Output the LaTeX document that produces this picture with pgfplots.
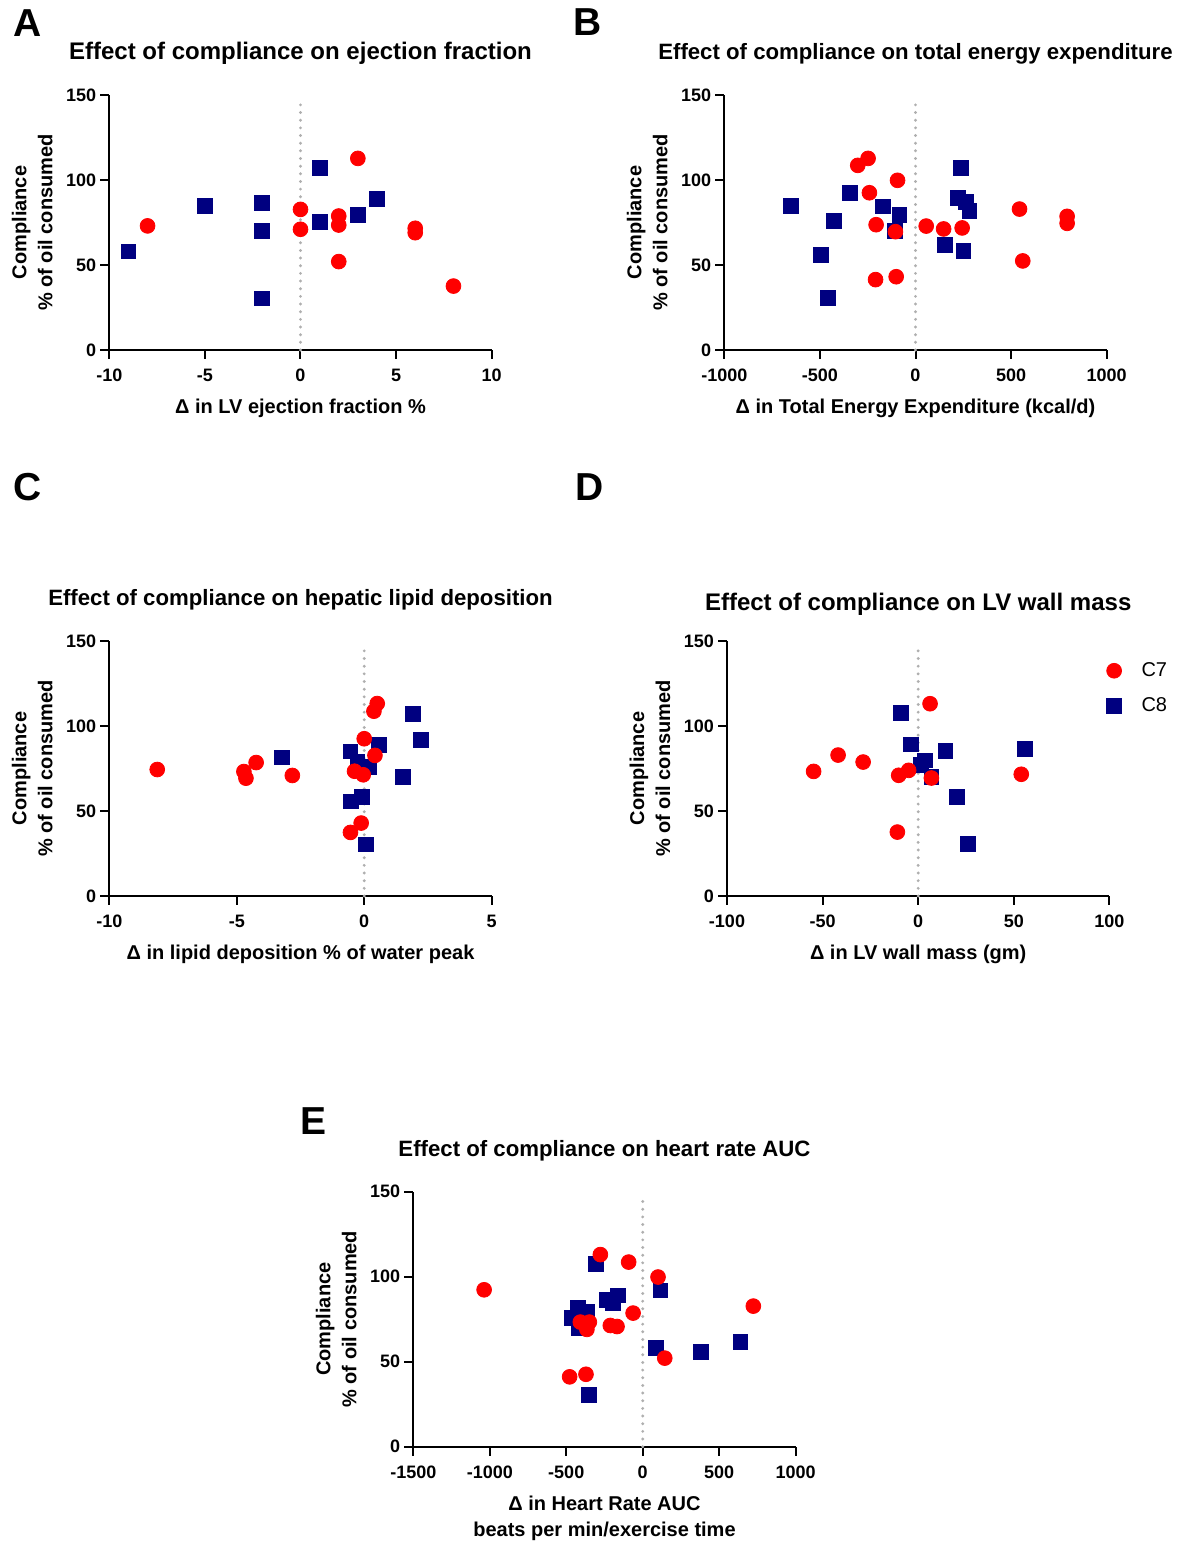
\documentclass[border=0pt]{standalone}
\usepackage{fontspec}
\setmainfont{Liberation Sans}
\usepackage{pgfplots}
\pgfplotsset{compat=1.18}

\definecolor{cseven}{RGB}{255,0,0}
\definecolor{ceight}{RGB}{0,0,128}
\definecolor{dotgray}{RGB}{175,175,175}

% common look of the five panels (GraphPad style)
\pgfplotsset{
  panel/.style={
    scale only axis, width=191.2pt, height=127.5pt,
    axis lines=left, axis line style={-, line width=1pt},
    tick align=outside, major tick length=4.5pt,
    every tick/.style={black, line width=1pt},
    ymin=0, ymax=150, ytick={0,50,100,150},
    /pgf/number format/assume math mode=true,
    /pgf/number format/1000 sep={},
    tick label style={font=\fontsize{9}{10}\selectfont\bfseries},
    xticklabel style={yshift=-1.5pt},
    yticklabel style={xshift=1.5pt},
    every axis x label/.style={at={(axis description cs:0.5,0)}, anchor=base, yshift=-32pt,
      align=center, font=\fontsize{10}{13}\selectfont\bfseries},
    every axis y label/.style={at={(axis description cs:0,0.5)}, anchor=center, xshift=-38.5pt,
      rotate=90, align=center, font=\fontsize{10}{13}\selectfont\bfseries},
    title style={font=\fontsize{12}{14}\selectfont\bfseries, at={(axis description cs:0.5,1)}, anchor=base, yshift=11.75pt},
    ylabel={Compliance\\\% of oil consumed},
    clip=false,
    legend image code/.code={\draw[#1] plot coordinates {(0pt,0pt)};},
  },
  smalltitle/.style={title style={font=\fontsize{11.1}{13}\selectfont\bfseries}},
  c7/.style={only marks, mark=*, mark size=3.7pt, mark options={draw=cseven, fill=cseven}},
  c8/.style={only marks, mark=square*, mark size=3.7pt, mark options={draw=ceight, fill=ceight}},
  zeroline/.style={forget plot, dotgray, line width=1.6pt, line cap=round, dash pattern=on 0pt off 3.83pt},
}

\begin{document}
\begin{tikzpicture}
\path[use as bounding box] (0,0) rectangle (594pt,772pt);

\node[font=\fontsize{19.5}{20}\selectfont\bfseries] at (14pt,760.5pt) {A};
\node[font=\fontsize{19.5}{20}\selectfont\bfseries] at (294pt,761pt) {B};
\node[font=\fontsize{19.5}{20}\selectfont\bfseries] at (14pt,528.5pt) {C};
\node[font=\fontsize{19.5}{20}\selectfont\bfseries] at (295pt,528.5pt) {D};
\node[font=\fontsize{19.5}{20}\selectfont\bfseries] at (157pt,211.5pt) {E};

% A
\begin{axis}[panel, at={(54.65pt,597pt)}, anchor=south west,
  xmin=-10, xmax=10, xtick={-10,-5,0,5,10},
  title={Effect of compliance on ejection fraction},
  xlabel={Δ in LV ejection fraction \%}]
\addplot[c8] coordinates {(-9,58) (-5,84.9) (-2,86.3) (-2,70) (-2,30.4) (1,107.3) (1,75.5) (3,79.4) (4,88.8)};
\addplot[c7] coordinates {(-8,73) (0,82.7) (0,71) (2,78.8) (2,73.5) (3,112.7) (2,52) (6,71.6) (6,69) (8,37.6)};
\addplot[zeroline] coordinates {(0,0) (0,148)};
\end{axis}

% B
\begin{axis}[panel, smalltitle, at={(362.15pt,597pt)}, anchor=south west,
  xmin=-1000, xmax=1000, xtick={-1000,-500,0,500,1000},
  title={Effect of compliance on total energy expenditure},
  xlabel={Δ in Total Energy Expenditure (kcal/d)}]
\addplot[c8] coordinates {(-652,84.9) (-344,92.2) (-171,84.5) (-84,79.6) (-427,76.1) (-106,70.2) (-495,55.9) (-460,30.6) (239,107.3) (223,89.4) (265,87.3) (282,81.6) (152,61.8) (251,58.4)};
\addplot[c7] coordinates {(-302,108.6) (-248,112.7) (-94,99.8) (-241,92.5) (-206,73.7) (-105,69.6) (56,72.9) (147,71.2) (244,71.8) (544,82.9) (793,78.6) (793,74.5) (561,52.4) (-209,41.4) (-101,43.1)};
\addplot[zeroline] coordinates {(0,0) (0,145)};
\end{axis}

% C
\begin{axis}[panel, smalltitle, at={(54.65pt,324pt)}, anchor=south west,
  xmin=-10, xmax=5, xtick={-10,-5,0,5},
  title={Effect of compliance on hepatic lipid deposition},
  xlabel={Δ in lipid deposition \% of water peak}]
\addplot[c8] coordinates {(-3.22,81.5) (-0.54,85) (0.58,89) (-0.27,79.1) (0.18,75.8) (1.92,107.3) (2.21,91.9) (1.53,70.1) (-0.51,55.7) (-0.08,58.1) (0.08,30.3)};
\addplot[c7] coordinates {(-8.12,74.4) (-4.72,73.2) (-4.64,69.3) (-4.24,78.5) (-2.82,70.9) (0,92.5) (0.51,113.2) (0.38,108.7) (0.42,82.7) (-0.38,73.4) (-0.04,71.3) (-0.12,42.9) (-0.54,37.4)};
\addplot[zeroline] coordinates {(0,0) (0,148)};
\end{axis}

% D
\begin{axis}[panel, at={(363.5pt,324pt)}, anchor=south west,
  xmin=-100, xmax=100, xtick={-100,-50,0,50,100},
  title={Effect of compliance on LV wall mass},
  title style={yshift=-2.75pt},
  xlabel={Δ in LV wall mass (gm)},
  reverse legend,
  legend style={at={(0.992,0.926)}, anchor=north west, draw=none, fill=none, inner sep=0pt,
    font=\fontsize{10}{12}\selectfont, row sep=7pt,
    nodes={inner sep=1pt},
    /tikz/every odd column/.append style={column sep=9pt}}]
\addplot[c8] coordinates {(-9.1,107.5) (-3.9,89.2) (3.4,79.8) (1.3,76.9) (6.9,70) (14.2,85.3) (55.9,86.5) (20.1,58.2) (26.2,30.8)};
\addlegendentry{C8}
\addplot[c7] coordinates {(-54.7,73.3) (-41.9,82.9) (-28.8,78.8) (-10.2,71) (-5,73.9) (6.2,113.1) (6.9,69.4) (53.9,71.6) (-10.9,37.6)};
\addlegendentry{C7}
\addplot[zeroline] coordinates {(0,0) (0,146)};
\end{axis}

% E
\begin{axis}[panel, smalltitle, at={(206.65pt,48.65pt)}, anchor=south west,
  xmin=-1500, xmax=1000, xtick={-1500,-1000,-500,0,500,1000},
  title={Effect of compliance on heart rate AUC},
  xlabel={Δ in Heart Rate AUC\\beats per min/exercise time},
  xlabel style={yshift=-13pt}]
\addplot[c8] coordinates {(-306,107.3) (-424,81.7) (-365,79.6) (-463,75.8) (-415,69.7) (-238,86.2) (-162,89) (-197,84.7) (116,91.9) (87,58.2) (378,55.6) (638,61.5) (-354,30.5)};
\addplot[c7] coordinates {(-1037,92.3) (-277,113) (-92,108.6) (100,99.8) (-63,78.6) (-408,73.3) (-349,73.3) (-365,69) (-212,71.3) (-168,70.7) (723,82.7) (144,52.1) (-478,41.1) (-371,42.6)};
\addplot[zeroline] coordinates {(0,0) (0,146)};
\end{axis}
\end{tikzpicture}
\end{document}
